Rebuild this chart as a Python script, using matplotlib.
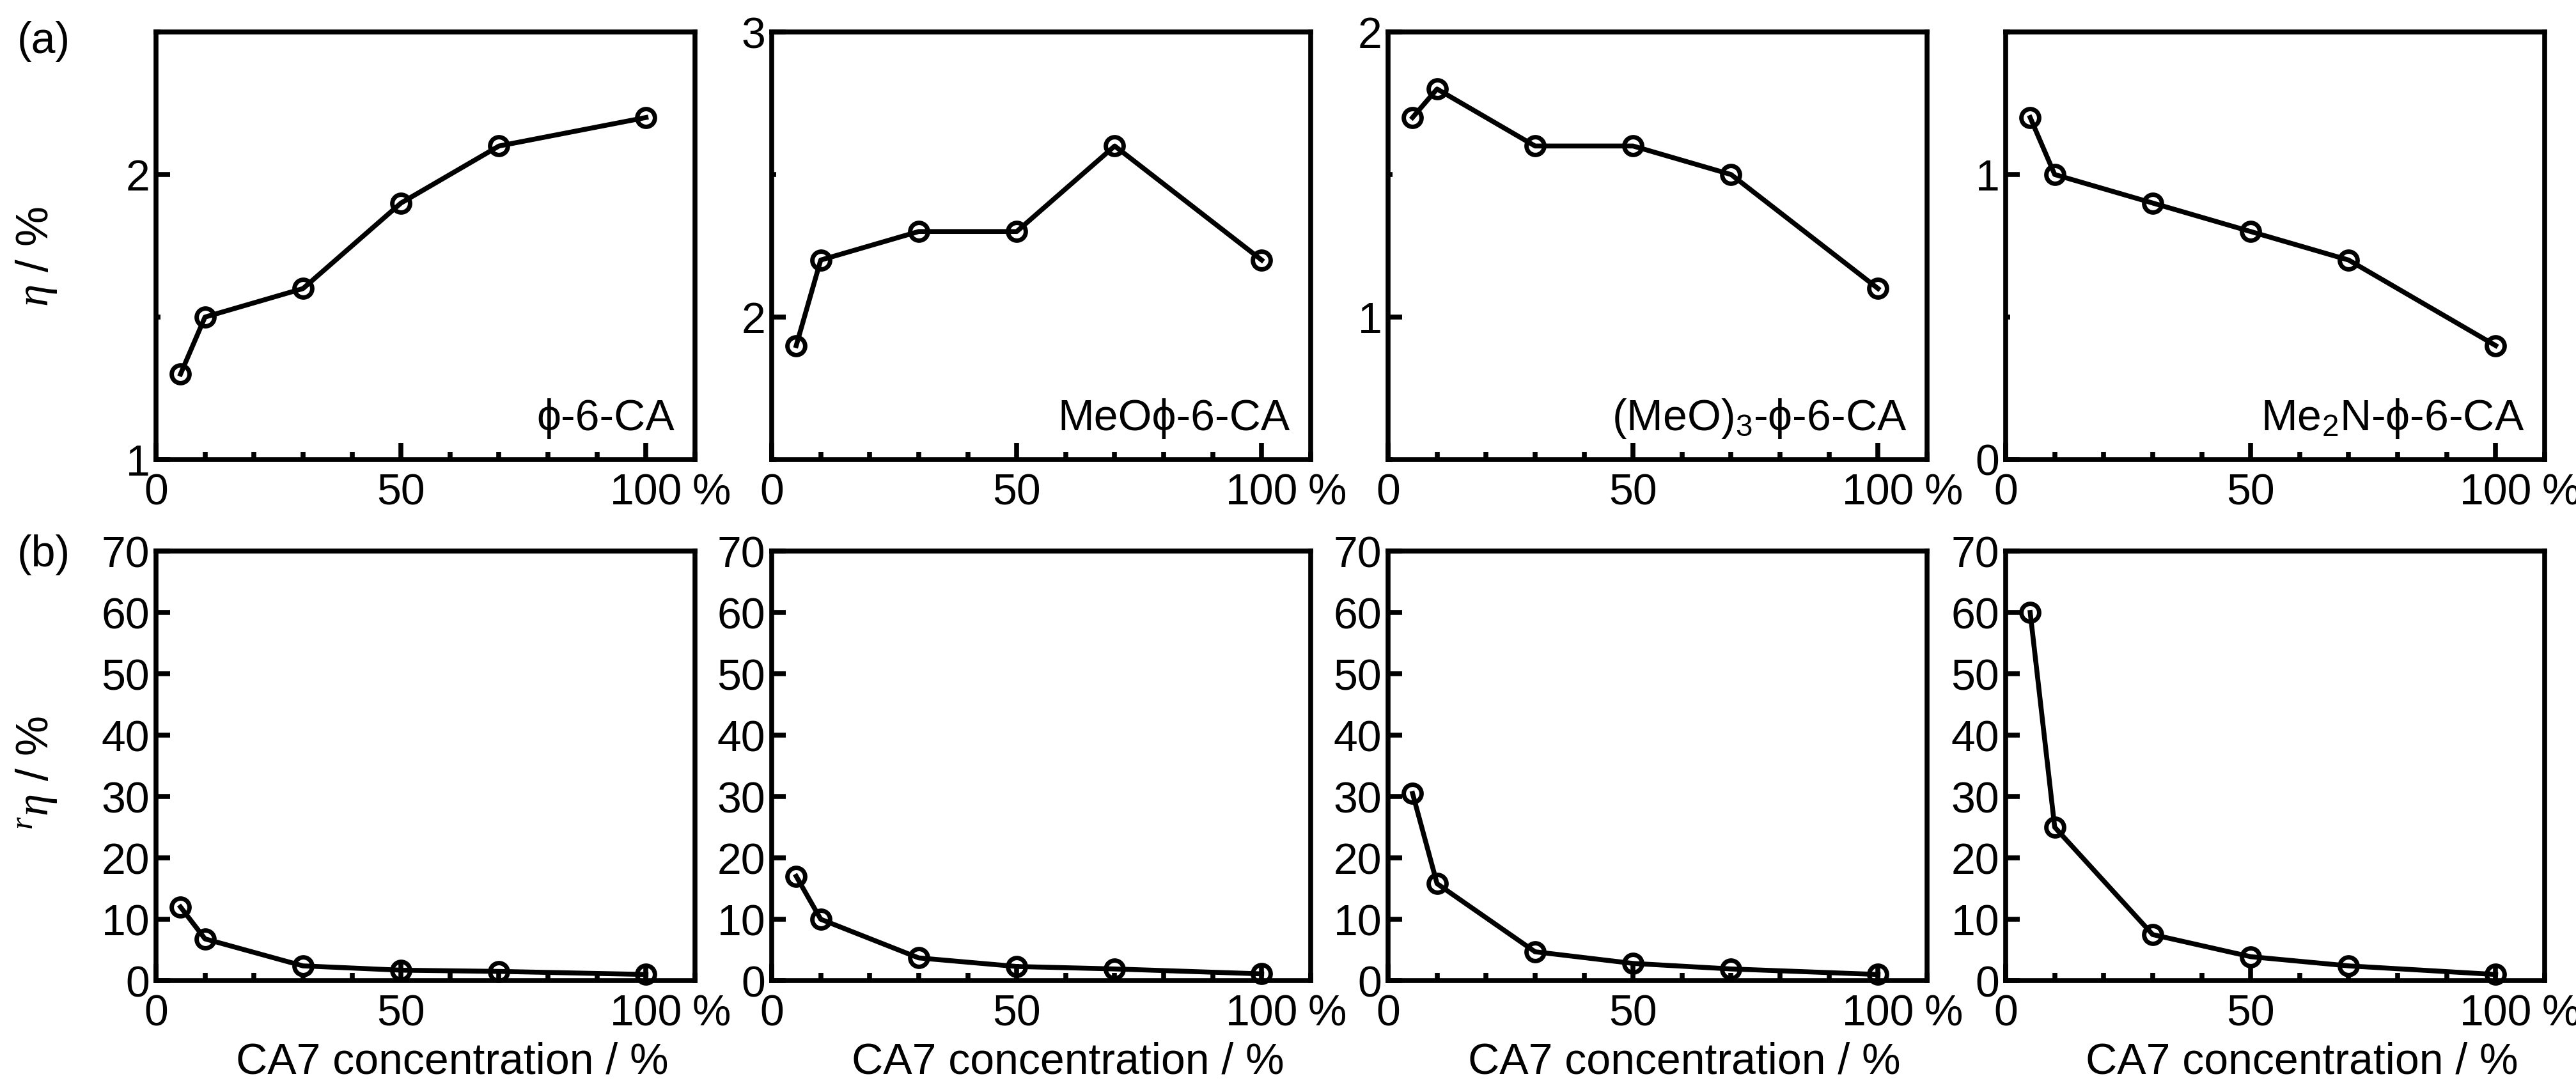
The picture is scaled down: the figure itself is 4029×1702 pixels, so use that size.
import matplotlib
matplotlib.use('Agg')
import matplotlib.pyplot as plt
from matplotlib.ticker import MultipleLocator, FixedLocator

plt.rcParams['font.family'] = ['Liberation Sans', 'DejaVu Sans']
plt.rcParams['mathtext.fontset'] = 'custom'
plt.rcParams['mathtext.rm'] = 'Liberation Sans'
plt.rcParams['mathtext.it'] = 'Liberation Serif:italic'

# CA7 concentration (%)
conc = [5, 10, 30, 50, 70, 100]

# panel names
names = ['\u03d5-6-CA', 'MeO\u03d5-6-CA', '(MeO)$_3$-\u03d5-6-CA', 'Me$_2$N-\u03d5-6-CA']

# (a) efficiency eta / %
eta_phi = [1.3, 1.5, 1.6, 1.9, 2.1, 2.2]
eta_meo = [1.9, 2.2, 2.3, 2.3, 2.6, 2.2]
eta_meo3 = [1.7, 1.8, 1.6, 1.6, 1.5, 1.1]
eta_me2n = [1.2, 1.0, 0.9, 0.8, 0.7, 0.4]

# (b) relative efficiency r-eta / %
reta_phi = [12.0, 6.8, 2.4, 1.7, 1.5, 1.0]
reta_meo = [17.0, 10.0, 3.7, 2.3, 1.9, 1.1]
reta_meo3 = [30.5, 15.8, 4.7, 2.8, 1.9, 1.0]
reta_me2n = [60.0, 25.0, 7.5, 3.9, 2.4, 1.0]

eta_all = [eta_phi, eta_meo, eta_meo3, eta_me2n]
reta_all = [reta_phi, reta_meo, reta_meo3, reta_me2n]
eta_ylims = [(1, 2.5), (1.5, 3), (0.5, 2), (0, 1.5)]

W, H = 4030, 1702
fig = plt.figure(figsize=(W / 100, H / 100), dpi=100)

lefts = [244, 1207, 2171, 3137]
aw = 843
FS = 49
LW = 5.5


def style(ax):
    for s in ax.spines.values():
        s.set_linewidth(LW)
    ax.set_xlim(0, 110)
    ax.xaxis.set_major_locator(FixedLocator([0, 50, 100]))
    ax.set_xticklabels(['0', '50', '100'])
    ax.xaxis.set_minor_locator(MultipleLocator(10))
    ax.tick_params(which='both', direction='in', width=LW, labelsize=FS)
    ax.tick_params(axis='x', which='major', length=19, pad=15)
    ax.tick_params(axis='x', which='minor', length=8.5)
    ax.tick_params(axis='y', which='major', length=16, pad=7)
    ax.tick_params(axis='y', which='minor', length=5)
    # "%" unit after the 100 tick label
    ax.annotate('%', xy=(100, 0), xycoords=('data', 'axes fraction'),
                xytext=(52, -15), textcoords='offset points',
                ha='left', va='top', fontsize=FS)


for i in range(4):
    l = lefts[i] / W
    # row (a)
    ax = fig.add_axes([l, 1 - 719 / H, aw / W, 669 / H])
    ax.plot(conc, eta_all[i], '-o', color='k', lw=LW, ms=20, mfc='none',
            mew=5, clip_on=False, zorder=3)
    style(ax)
    ax.set_ylim(*eta_ylims[i])
    ax.yaxis.set_major_locator(MultipleLocator(1))
    ax.yaxis.set_minor_locator(MultipleLocator(0.5))
    ax.text(0.962, 0.069, names[i], transform=ax.transAxes, ha='right',
            va='baseline', fontsize=FS)
    if i == 0:
        ax.set_ylabel(r'$\eta$ / %', fontsize=FS + 2)
        ax.yaxis.set_label_coords(-0.18, 0.474)

    # row (b)
    bx = fig.add_axes([l, 1 - 1534 / H, aw / W, 672 / H])
    bx.plot(conc, reta_all[i], '-o', color='k', lw=LW, ms=20, mfc='none',
            mew=5, clip_on=False, zorder=3)
    style(bx)
    bx.set_ylim(0, 70)
    bx.yaxis.set_major_locator(MultipleLocator(10))
    bx.set_xlabel('CA7 concentration / %', fontsize=FS)
    bx.xaxis.set_label_coords(0.55, -0.19)
    bx.xaxis.label.set_va('center')
    if i == 0:
        bx.set_ylabel(r'$^{r}\eta$ / %', fontsize=FS + 2)
        bx.yaxis.set_label_coords(-0.18, 0.484)

fig.text(27 / W, 1 - 65 / H, '(a)', fontsize=FS, va='center', ha='left')
fig.text(27 / W, 1 - 868 / H, '(b)', fontsize=FS, va='center', ha='left')

fig.savefig('out.png', dpi=100)
